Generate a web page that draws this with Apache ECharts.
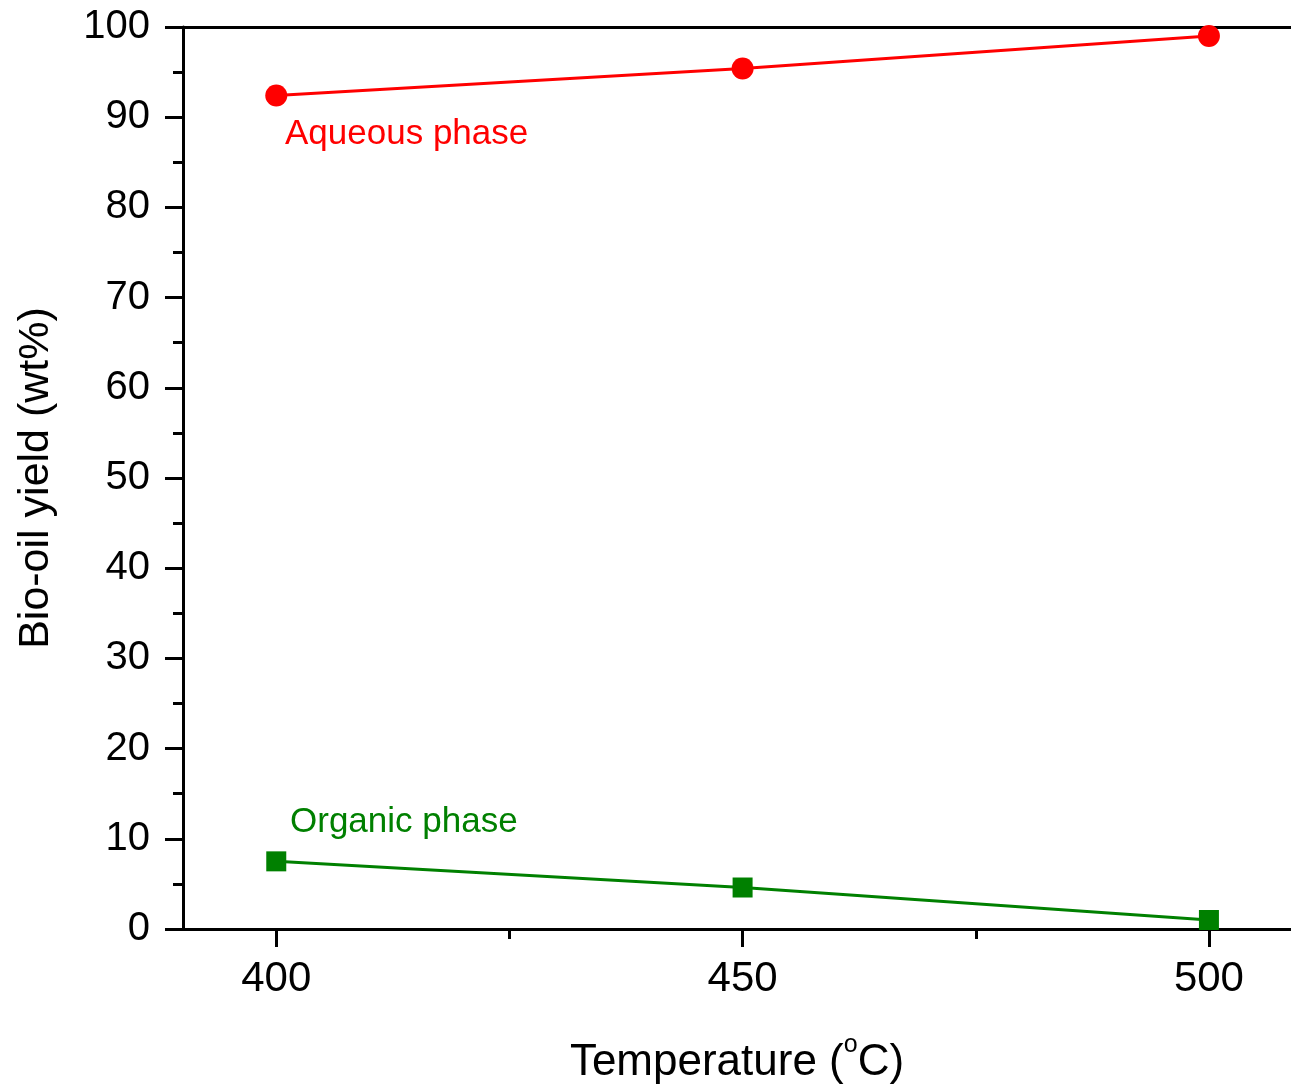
<!DOCTYPE html>
<html>
<head>
<meta charset="utf-8">
<script src="https://cdn.jsdelivr.net/npm/echarts@6/dist/echarts.min.js"></script>
<style>
html,body{margin:0;padding:0;background:#fff;overflow:hidden;}
#chart{width:1291px;height:1085px;}
</style>
</head>
<body>
<div id="chart"></div>
<script>
var temperatures = [400, 450, 500];
var aqueous = [92.4, 95.4, 99.0];
var organic = [7.5, 4.6, 1.0];
var xMajorTicks = [400, 450, 500];
var xMinorTicks = [425, 475];
var seriesNames = ['Aqueous phase', 'Organic phase'];
var xTitle = 'Temperature (';
var yTitle = 'Bio-oil yield (wt%)';
var xMin = 390, xMax = 508.8;

var FONT = 'Liberation Sans, Arial, sans-serif';
var chart = echarts.init(document.getElementById('chart'), null, {renderer: 'canvas'});

function pairs(xs, ys) { return xs.map(function (x, i) { return [x, ys[i]]; }); }

var option = {
  animation: false,
  backgroundColor: '#fff',
  grid: {left: 183, top: 27, bottom: 156, right: 0, containLabel: false, outerBoundsMode: 'none'},
  xAxis: [{
    type: 'value', min: xMin, max: xMax, position: 'bottom',
    axisLine: {show: true, onZero: false, lineStyle: {color: '#000', width: 3}},
    axisTick: {show: true, inside: false, length: 18, lineStyle: {color: '#000', width: 3}, customValues: xMajorTicks},
    axisLabel: {show: true, margin: 29, fontFamily: FONT, fontSize: 42, color: '#000', customValues: xMajorTicks},
    splitLine: {show: false},
    name: '{a|' + xTitle + '}{s|o}{a|C)}',
    nameLocation: 'middle', nameGap: 104,
    nameTextStyle: {
      rich: {
        a: {fontFamily: FONT, fontSize: 44, color: '#000', verticalAlign: 'bottom', lineHeight: 52},
        s: {fontFamily: FONT, fontSize: 25, color: '#000', verticalAlign: 'top', padding: [0, 0, 27, 0], lineHeight: 52}
      }
    }
  }, {
    type: 'value', min: xMin, max: xMax, position: 'bottom',
    axisLine: {show: false, onZero: false},
    axisTick: {show: true, inside: false, length: 10, lineStyle: {color: '#000', width: 3}, customValues: xMinorTicks},
    axisLabel: {show: false},
    splitLine: {show: false}
  }, {
    type: 'value', min: xMin, max: xMax, position: 'top',
    axisLine: {show: true, onZero: false, lineStyle: {color: '#000', width: 3}},
    axisTick: {show: false},
    axisLabel: {show: false},
    splitLine: {show: false}
  }],
  yAxis: {
    type: 'value', min: 0, max: 100, interval: 10,
    axisLine: {show: true, onZero: false, lineStyle: {color: '#000', width: 3}},
    axisTick: {show: true, inside: false, length: 18, lineStyle: {color: '#000', width: 3}},
    minorTick: {show: true, splitNumber: 2, length: 10, lineStyle: {color: '#000', width: 3}},
    axisLabel: {margin: 33, fontFamily: FONT, fontSize: 40, color: '#000'},
    splitLine: {show: false},
    minorSplitLine: {show: false},
    name: yTitle, nameLocation: 'middle', nameGap: 125,
    nameTextStyle: {fontFamily: FONT, fontSize: 43, color: '#000'}
  },
  series: [{
    name: seriesNames[0], type: 'line', xAxisIndex: 0,
    data: pairs(temperatures, aqueous),
    symbol: 'circle', symbolSize: 22,
    lineStyle: {color: '#ff0000', width: 3},
    itemStyle: {color: '#ff0000'}
  }, {
    name: seriesNames[1], type: 'line', xAxisIndex: 0,
    data: pairs(temperatures, organic),
    symbol: 'rect', symbolSize: 20,
    lineStyle: {color: '#008000', width: 3},
    itemStyle: {color: '#008000'}
  }],
  graphic: [{
    type: 'text', left: 285, top: 117,
    style: {text: seriesNames[0], fontFamily: FONT, fontSize: 35, fill: '#ff0000'}
  }, {
    type: 'text', left: 290, top: 805,
    style: {text: seriesNames[1], fontFamily: FONT, fontSize: 35, fill: '#008000'}
  }]
};
chart.setOption(option);
</script>
</body>
</html>
